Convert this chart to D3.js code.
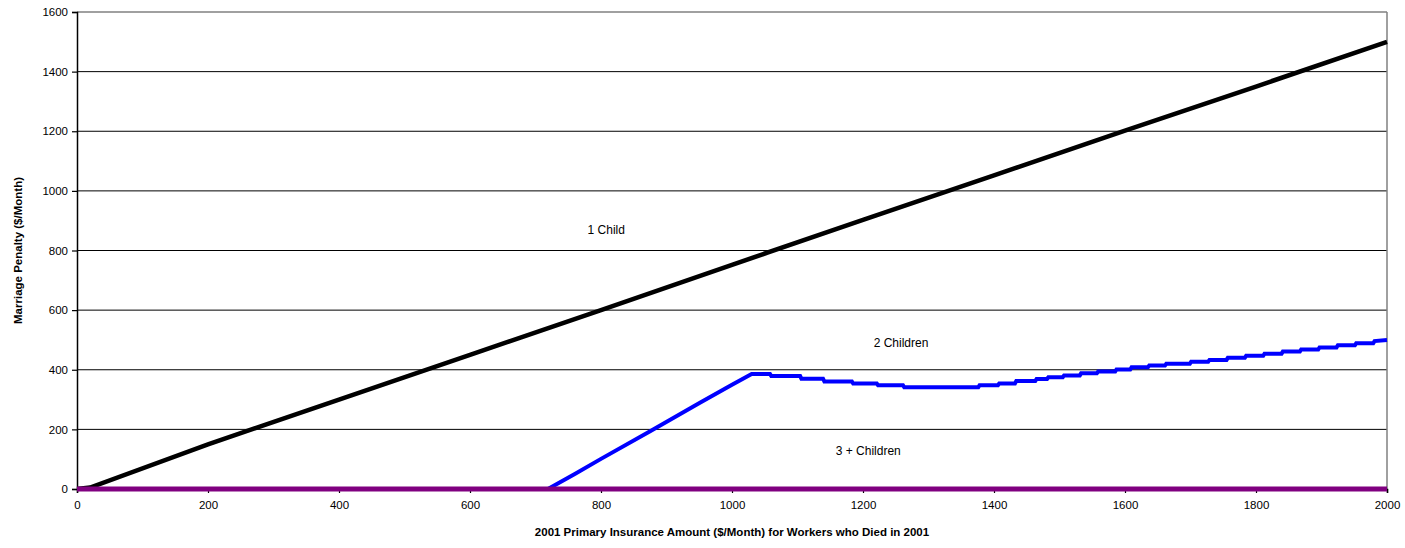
<!DOCTYPE html>
<html><head><meta charset="utf-8">
<script src="https://cdn.jsdelivr.net/npm/d3@7"></script>
<style>body{margin:0;background:#fff}svg{display:block}</style>
</head><body><svg id="c" width="1405" height="548"></svg>
<script>
// Data
const oneChildX = [0, 20, 200, 400, 600, 800, 1000, 1200, 1400, 1600, 1800, 2000];
const oneChildY = [0, 5, 150, 300, 450, 600, 752, 903, 1052, 1202, 1350, 1500];
const twoChildX = [0, 719, 760, 800, 875, 951, 1000, 1030, 1058, 1060, 1104, 1106, 1139, 1141, 1183, 1185, 1221, 1223, 1261, 1263, 1376, 1378, 1406, 1408, 1432, 1434, 1455, 1457, 1463, 1465, 1481, 1483, 1505, 1507, 1531, 1533, 1557, 1559, 1585, 1587, 1608, 1610, 1635, 1637, 1661, 1663, 1699, 1701, 1727, 1729, 1755, 1757, 1783, 1785, 1811, 1813, 1839, 1841, 1867, 1869, 1895, 1897, 1923, 1925, 1951, 1953, 1979, 1981, 2000];
const twoChildY = [0, 0, 50, 101, 194, 289, 350, 386, 386, 379, 379, 370, 370, 361, 361, 354, 354, 348, 348, 341, 341, 348, 348, 354, 354, 362, 362, 362, 362, 369, 369, 375, 375, 381, 381, 388, 388, 394, 394, 401, 401, 408, 408, 414, 414, 420, 420, 427, 427, 433, 433, 440, 440, 447, 447, 454, 454, 461, 461, 468, 468, 475, 475, 482, 482, 489, 489, 496, 500];
const threeChildX = [0, 2000];
const threeChildY = [0, 0];
const xTicks = [0, 200, 400, 600, 800, 1000, 1200, 1400, 1600, 1800, 2000];
const yTicks = [0, 200, 400, 600, 800, 1000, 1200, 1400, 1600];
const seriesLabels = [
  {text: "1 Child", x: 808, y: 870},
  {text: "2 Children", x: 1258, y: 492},
  {text: "3 + Children", x: 1208, y: 128}
];

const svg = d3.select("#c");
const L = 77, R = 1387, T = 12, B = 489;
const x = d3.scaleLinear().domain([0, 2000]).range([L, R]);
const y = d3.scaleLinear().domain([0, 1600]).range([B, T]);
const font = "Liberation Sans, Arial, sans-serif";

// gridlines
svg.append("g").selectAll("line").data(yTicks.filter(d => d > 0 && d < 1600)).join("line")
  .attr("x1", L).attr("x2", R).attr("y1", d => y(d)).attr("y2", d => y(d))
  .attr("stroke", "#000").attr("stroke-width", 1);
// top & right border gray
svg.append("line").attr("x1", L).attr("x2", R).attr("y1", T).attr("y2", T).attr("stroke", "#808080").attr("stroke-width", 1.5);
svg.append("line").attr("x1", R).attr("x2", R).attr("y1", T).attr("y2", B).attr("stroke", "#808080").attr("stroke-width", 1.5);

// axes
const yAxis = svg.append("g").attr("transform", `translate(${L},0)`)
  .call(d3.axisLeft(y).tickValues(yTicks).tickSize(5).tickPadding(4).tickFormat(d3.format("d")));
const xAxis = svg.append("g").attr("transform", `translate(0,${B})`)
  .call(d3.axisBottom(x).tickValues(xTicks).tickSize(4).tickPadding(8).tickFormat(d3.format("d")));
[yAxis, xAxis].forEach(a => {
  a.select(".domain").attr("stroke", "#000").attr("stroke-width", 1.5);
  a.selectAll(".tick line").attr("stroke", "#000").attr("stroke-width", 1.2);
  a.selectAll("text").attr("font-family", font).attr("font-size", 11.5).attr("fill", "#000");
});

const line = d3.line().x(d => x(d[0])).y(d => y(d[1]));
const zipped = (xs, ys) => xs.map((v, i) => [v, ys[i]]);

svg.append("path").datum(zipped(oneChildX, oneChildY)).attr("d", line)
  .attr("fill", "none").attr("stroke", "#000").attr("stroke-width", 4.5);
svg.append("path").datum(zipped(twoChildX, twoChildY)).attr("d", line)
  .attr("fill", "none").attr("stroke", "#0000ff").attr("stroke-width", 4);
svg.append("path").datum(zipped(threeChildX, threeChildY)).attr("d", line)
  .attr("fill", "none").attr("stroke", "#800080").attr("stroke-width", 5);

// series labels (positioned in data units)
svg.append("g").selectAll("text").data(seriesLabels).join("text")
  .attr("x", d => x(d.x)).attr("y", d => y(d.y)).attr("dy", "0.35em")
  .attr("text-anchor", "middle").attr("font-family", font).attr("font-size", 12)
  .text(d => d.text);

// axis titles
svg.append("text").attr("x", (L + R) / 2).attr("y", 536).attr("text-anchor", "middle")
  .attr("font-family", font).attr("font-size", 11.5).attr("font-weight", "bold")
  .text("2001 Primary Insurance Amount ($/Month) for Workers who Died in 2001");
svg.append("text").attr("transform", `translate(22,${(T + B) / 2}) rotate(-90)`)
  .attr("text-anchor", "middle").attr("font-family", font).attr("font-size", 11.5).attr("font-weight", "bold")
  .text("Marriage Penalty ($/Month)");
</script></body></html>
